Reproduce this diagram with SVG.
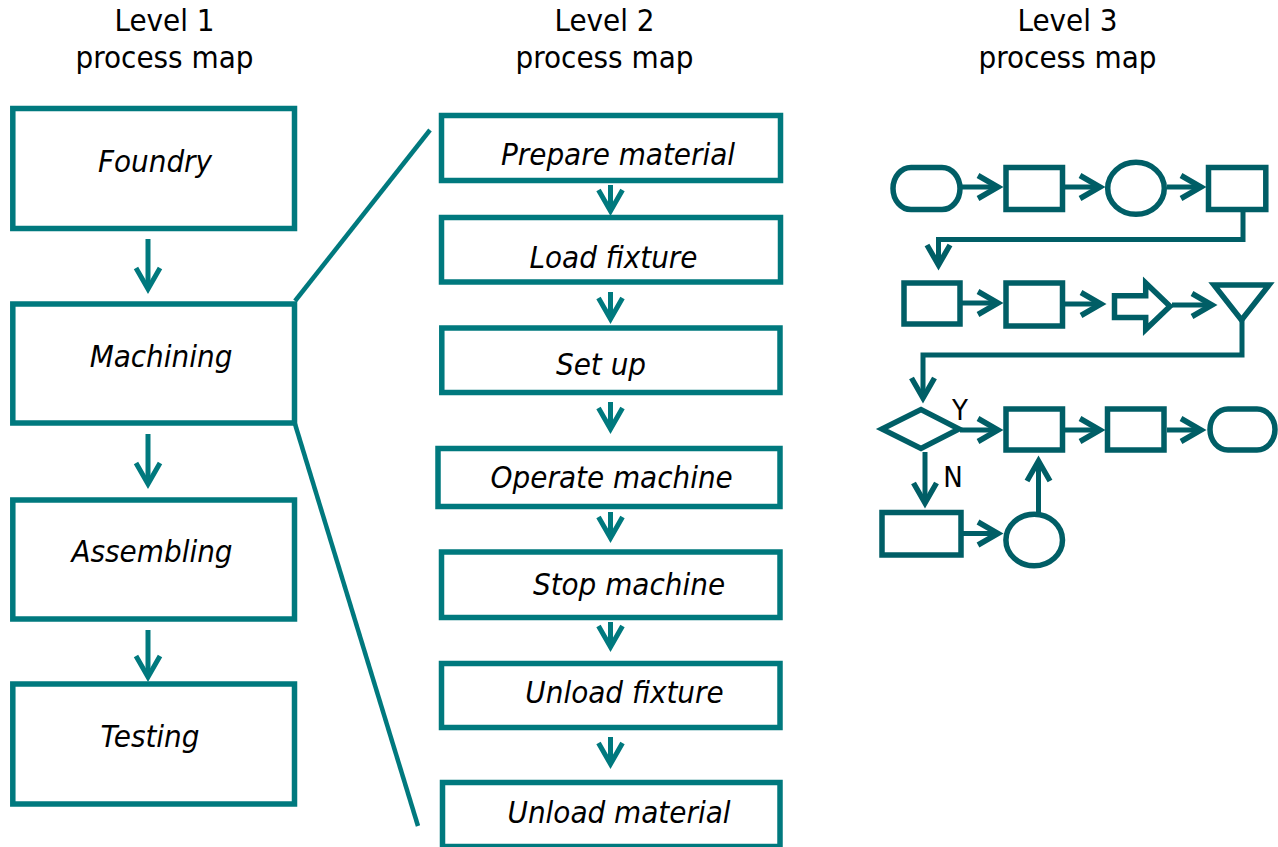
<svg xmlns="http://www.w3.org/2000/svg" width="1278" height="847" viewBox="0 0 1278 847">
<style>
.t{font-family:"DejaVu Sans Condensed","DejaVu Sans",sans-serif;font-stretch:condensed;font-size:31px;fill:#000;text-anchor:middle}
.l{font-family:"DejaVu Sans Condensed","DejaVu Sans",sans-serif;font-stretch:condensed;font-size:31px;font-style:italic;fill:#000;text-anchor:middle}
.yn{font-family:"DejaVu Sans Condensed","DejaVu Sans",sans-serif;font-stretch:condensed;font-size:29px;fill:#000;text-anchor:middle}
.b1{fill:#fff;stroke:#00797E;stroke-width:5.5}
.b3{fill:#fff;stroke:#005E66;stroke-width:5.5}
.c1{fill:none;stroke:#00797E;stroke-width:5;marker-end:url(#a1)}
.c3{fill:none;stroke:#005E66;stroke-width:5;marker-end:url(#a3)}
.z{fill:none;stroke:#00797E;stroke-width:4.5}
</style>
<defs>
<marker id="a1" viewBox="-26 -16 32 32" refX="0" refY="0" markerWidth="32" markerHeight="32" markerUnits="userSpaceOnUse" orient="auto" overflow="visible">
<path d="M-21,-12 L0,0 L-21,12" fill="none" stroke="#00797E" stroke-width="5"/>
</marker>
<marker id="a3" viewBox="-26 -16 32 32" refX="0" refY="0" markerWidth="32" markerHeight="32" markerUnits="userSpaceOnUse" orient="auto" overflow="visible">
<path d="M-20,-11.5 L0,0 L-20,11.5" fill="none" stroke="#005E66" stroke-width="5.5"/>
</marker>
</defs>
<rect width="1278" height="847" fill="#fff"/>
<g id="titles">
<text class="t" x="164.5" y="31">Level 1</text>
<text class="t" x="164.5" y="68">process map</text>
<text class="t" x="604.5" y="31">Level 2</text>
<text class="t" x="604.5" y="68">process map</text>
<text class="t" x="1067.5" y="31">Level 3</text>
<text class="t" x="1067.5" y="68">process map</text>
</g>
<g id="zoom-lines">
<line class="z" x1="295" y1="301" x2="430" y2="130"/>
<line class="z" x1="295" y1="424" x2="418" y2="826"/>
</g>
<g id="connectors">
<line class="c1" x1="148" y1="239" x2="148" y2="289"/>
<line class="c1" x1="148" y1="434" x2="148" y2="484"/>
<line class="c1" x1="148" y1="630" x2="148" y2="677"/>
<line class="c1" x1="610.5" y1="185" x2="610.5" y2="211"/>
<line class="c1" x1="610.5" y1="292" x2="610.5" y2="319"/>
<line class="c1" x1="610.5" y1="402" x2="610.5" y2="429"/>
<line class="c1" x1="610.5" y1="512" x2="610.5" y2="538"/>
<line class="c1" x1="610.5" y1="622" x2="610.5" y2="647"/>
<line class="c1" x1="610.5" y1="737" x2="610.5" y2="764"/>
<line class="c3" x1="962" y1="187" x2="998" y2="187"/>
<line class="c3" x1="1065" y1="187" x2="1100" y2="187"/>
<line class="c3" x1="1167" y1="187" x2="1201" y2="187"/>
<path class="c3" d="M1243,212 V239.5 H938.5 V265"/>
<line class="c3" x1="962" y1="303" x2="998" y2="303"/>
<line class="c3" x1="1065" y1="304" x2="1101" y2="304"/>
<line class="c3" x1="1172" y1="305" x2="1212" y2="305"/>
<path class="c3" d="M1242,320 V355 H923 V398"/>
<line class="c3" x1="960" y1="430" x2="998" y2="430"/>
<line class="c3" x1="1065" y1="430" x2="1100" y2="430"/>
<line class="c3" x1="1167" y1="430" x2="1201" y2="430"/>
<line class="c3" x1="925" y1="452" x2="925" y2="503"/>
<line class="c3" x1="963" y1="533.5" x2="998" y2="533.5"/>
<line class="c3" x1="1038.5" y1="520" x2="1038.5" y2="461"/>
</g>
<g id="n-foundry"><rect class="b1" x="12.8" y="108.5" width="281.7" height="120"/><text class="l" x="155" y="172">Foundry</text></g>
<g id="n-machining"><rect class="b1" x="12.8" y="304" width="281.7" height="119"/><text class="l" x="161" y="367">Machining</text></g>
<g id="n-assembling"><rect class="b1" x="12.8" y="500" width="281.7" height="119"/><text class="l" x="152" y="562">Assembling</text></g>
<g id="n-testing"><rect class="b1" x="12.8" y="684" width="281.7" height="120"/><text class="l" x="150" y="747">Testing</text></g>
<g id="n-prepare"><rect class="b1" x="441.5" y="115.5" width="339" height="65"/><text class="l" x="618" y="165">Prepare material</text></g>
<g id="n-load"><rect class="b1" x="441.5" y="217.5" width="339" height="64.5"/><text class="l" x="613.5" y="268">Load fixture</text></g>
<g id="n-setup"><rect class="b1" x="441.8" y="328" width="338.2" height="64.5"/><text class="l" x="601" y="375">Set up</text></g>
<g id="n-operate"><rect class="b1" x="438" y="448.5" width="342" height="58"/><text class="l" x="611.7" y="488">Operate machine</text></g>
<g id="n-stop"><rect class="b1" x="441.5" y="552" width="338.5" height="65.5"/><text class="l" x="629" y="595">Stop machine</text></g>
<g id="n-unload-fixture"><rect class="b1" x="441.5" y="663.5" width="338.5" height="64"/><text class="l" x="624.5" y="703">Unload fixture</text></g>
<g id="n-unload-material"><rect class="b1" x="442.5" y="782.5" width="337.5" height="64"/><text class="l" x="619" y="823">Unload material</text></g>
<g id="l3-start"><rect class="b3" x="893" y="167.5" width="67" height="42" rx="18" ry="21"/></g>
<g id="l3-r1"><rect class="b3" x="1006" y="167.5" width="56.5" height="42"/></g>
<g id="l3-c1"><ellipse class="b3" cx="1136" cy="188.3" rx="28.3" ry="26"/></g>
<g id="l3-r2"><rect class="b3" x="1208.5" y="167.5" width="57.3" height="42"/></g>
<g id="l3-r3"><rect class="b3" x="904" y="283" width="56" height="41"/></g>
<g id="l3-r4"><rect class="b3" x="1006" y="283" width="56.5" height="43"/></g>
<g id="l3-move"><path class="b3" d="M1114.5,295.8 L1145.7,295.8 L1145.7,283 L1170,306.3 L1145.7,329.5 L1145.7,317.5 L1114.5,317.5 Z"/></g>
<g id="l3-merge"><path class="b3" d="M1214,285 L1269,285 L1241.5,320 Z"/></g>
<g id="l3-decision"><path class="b3" d="M882,429 L921,409.5 L959,429 L921,448.5 Z"/><text class="yn" x="960" y="420">Y</text><text class="yn" x="953" y="487">N</text></g>
<g id="l3-r5"><rect class="b3" x="1006" y="409" width="56.5" height="41"/></g>
<g id="l3-r6"><rect class="b3" x="1107.5" y="409" width="56.5" height="41"/></g>
<g id="l3-end"><rect class="b3" x="1210" y="409" width="65" height="41" rx="18" ry="20.5"/></g>
<g id="l3-r7"><rect class="b3" x="882" y="512.5" width="79" height="42.5"/></g>
<g id="l3-c2"><ellipse class="b3" cx="1034.2" cy="540" rx="28.3" ry="25.8"/></g>
</svg>
